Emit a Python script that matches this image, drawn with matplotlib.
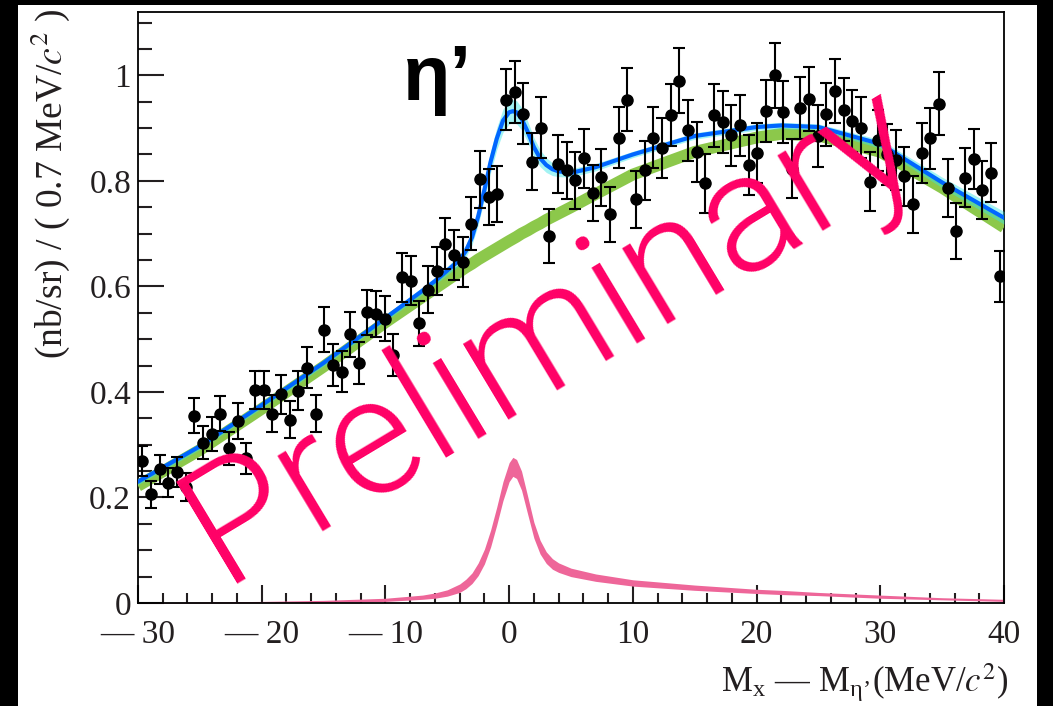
import numpy as np
import matplotlib
matplotlib.use("Agg")
import matplotlib.pyplot as plt
from matplotlib.patches import Rectangle
from matplotlib import font_manager

# ---- data ----
# 100 bins of 0.7 MeV between -30 and 40
bin_lo, bin_hi, nbins = -30.0, 40.0, 100
y_data = [0.269, 0.206, 0.253, 0.228, 0.248, 0.220, 0.355, 0.304, 0.321, 0.359,
          0.293, 0.345, 0.274, 0.403, 0.403, 0.359, 0.396, 0.347, 0.402, 0.446,
          0.359, 0.518, 0.451, 0.438, 0.509, 0.455, 0.551, 0.548, 0.539, 0.470,
          0.617, 0.611, 0.530, 0.594, 0.629, 0.681, 0.659, 0.646, 0.719, 0.803,
          0.770, 0.775, 0.954, 0.968, 0.927, 0.836, 0.901, 0.695, 0.832, 0.820,
          0.801, 0.843, 0.777, 0.807, 0.737, 0.882, 0.954, 0.765, 0.820, 0.882,
          0.863, 0.925, 0.990, 0.896, 0.855, 0.795, 0.924, 0.912, 0.886, 0.905,
          0.830, 0.852, 0.932, 1.000, 0.931, 0.823, 0.938, 0.955, 0.885, 0.926,
          0.970, 0.935, 0.914, 0.901, 0.798, 0.877, 0.850, 0.840, 0.809, 0.756,
          0.852, 0.881, 0.946, 0.787, 0.705, 0.806, 0.841, 0.782, 0.815, 0.619]
y_err = [0.028, 0.026, 0.028, 0.027, 0.028, 0.027, 0.033, 0.031, 0.032, 0.033,
         0.031, 0.034, 0.030, 0.036, 0.036, 0.035, 0.037, 0.035, 0.037, 0.039,
         0.035, 0.042, 0.039, 0.039, 0.042, 0.040, 0.043, 0.043, 0.043, 0.040,
         0.046, 0.046, 0.043, 0.045, 0.046, 0.048, 0.047, 0.047, 0.050, 0.054,
         0.053, 0.053, 0.058, 0.059, 0.058, 0.054, 0.057, 0.051, 0.055, 0.054,
         0.054, 0.056, 0.053, 0.054, 0.052, 0.058, 0.060, 0.054, 0.056, 0.058,
         0.057, 0.059, 0.061, 0.058, 0.057, 0.055, 0.059, 0.059, 0.058, 0.058,
         0.056, 0.057, 0.059, 0.062, 0.059, 0.056, 0.059, 0.060, 0.058, 0.059,
         0.060, 0.059, 0.059, 0.058, 0.056, 0.058, 0.057, 0.057, 0.056, 0.054,
         0.057, 0.058, 0.060, 0.055, 0.053, 0.056, 0.057, 0.055, 0.056, 0.049]

# fit curves, read at these x positions
x_curve = [-30, -25, -20, -15, -10, -7, -6, -5, -4, -3.5, -3, -2.5, -2, -1.5, -1, -0.5,
           0, 0.3, 0.6, 1, 1.5, 2, 2.5, 3, 3.5, 4, 5, 7, 10, 15, 20, 22, 25, 30, 35, 40]
bkg = [0.222, 0.290, 0.368, 0.448, 0.532, 0.580, 0.596, 0.612, 0.628, 0.636, 0.643,
       0.651, 0.658, 0.665, 0.672, 0.679, 0.686, 0.690, 0.694, 0.700, 0.706, 0.713,
       0.719, 0.726, 0.732, 0.738, 0.750, 0.775, 0.812, 0.855, 0.882, 0.889, 0.886,
       0.855, 0.787, 0.712]
total = [0.230, 0.297, 0.375, 0.455, 0.540, 0.592, 0.610, 0.630, 0.650, 0.667, 0.693,
         0.733, 0.783, 0.836, 0.880, 0.914, 0.930, 0.932, 0.930, 0.918, 0.893, 0.864,
         0.843, 0.830, 0.822, 0.818, 0.815, 0.826, 0.850, 0.885, 0.902, 0.905, 0.902,
         0.870, 0.797, 0.730]
total_err = [0.006, 0.006, 0.006, 0.006, 0.006, 0.007, 0.007, 0.008, 0.010, 0.012,
             0.014, 0.016, 0.018, 0.020, 0.021, 0.022, 0.022, 0.022, 0.022, 0.021,
             0.020, 0.018, 0.016, 0.014, 0.012, 0.010, 0.008, 0.007, 0.006, 0.006,
             0.006, 0.006, 0.006, 0.008, 0.010, 0.012]
sig = [0.000, 0.001, 0.002, 0.003, 0.006, 0.011, 0.014, 0.019, 0.028, 0.036, 0.047,
       0.064, 0.088, 0.122, 0.165, 0.212, 0.248, 0.258, 0.254, 0.232, 0.185, 0.138,
       0.106, 0.086, 0.074, 0.067, 0.058, 0.048, 0.038, 0.029, 0.022, 0.020, 0.017,
       0.012, 0.008, 0.005]
sig_err = [0.000, 0.001, 0.001, 0.002, 0.003, 0.004, 0.005, 0.006, 0.008, 0.009,
           0.010, 0.012, 0.014, 0.016, 0.017, 0.018, 0.018, 0.018, 0.018, 0.018,
           0.017, 0.015, 0.013, 0.011, 0.010, 0.009, 0.008, 0.007, 0.006, 0.005,
           0.004, 0.004, 0.003, 0.003, 0.002, 0.002]

plt.rcParams['font.family'] = ['Liberation Serif', 'DejaVu Serif']
plt.rcParams['mathtext.fontset'] = 'stix'

# thin geometric face for the watermark; fall back to plain Lato
prelim_file = None
for wanted in ['Roboto-Light.ttf', 'OpenSans-Light.ttf', 'Lato-Regular.ttf']:
    for f in font_manager.fontManager.ttflist:
        if f.fname.endswith(wanted):
            prelim_file = f.fname
            break
    if prelim_file:
        break
if prelim_file:
    prelim_font = font_manager.FontProperties(fname=prelim_file, size=120)
else:
    prelim_font = font_manager.FontProperties(family='DejaVu Sans', size=110)

fig = plt.figure(figsize=(10.53, 7.06), dpi=100, facecolor='black')
fig.patches.append(Rectangle((18 / 1053, 0), (1037 - 18) / 1053, 701 / 706,
                             transform=fig.transFigure, facecolor='white',
                             edgecolor='none', zorder=-5))
ax = fig.add_axes([138 / 1053, 1 - 603 / 706, (1004 - 138) / 1053, (603 - 12) / 706])
ax.set_zorder(1)

width = (bin_hi - bin_lo) / nbins
x_data = np.linspace(bin_lo + width / 2, bin_hi - width / 2, nbins)

xc = np.array(x_curve)
bk = np.array(bkg)
tt = np.array(total)
te = np.array(total_err)
sg = np.array(sig)
se = np.array(sig_err)

ax.fill_between(xc, sg - se, sg + se, color='#ee6699', lw=0, zorder=2)
ax.plot(xc, bk, color='#8cc84b', lw=8.5, solid_capstyle='butt', zorder=3)
ax.fill_between(xc, tt - te, tt + te, color='#33e6e6', alpha=0.45, lw=0, zorder=4)
ax.plot(xc, tt, color='#0066ff', lw=3, zorder=5)
ax.errorbar(x_data, y_data, yerr=y_err, fmt='o', color='black', ms=8, elinewidth=1.5,
            capsize=4.5, capthick=1.5, zorder=6)

ax.set_xlim(-30, 40)
ax.set_ylim(0, 1.12)
ax.set_xticks([-30, -20, -10, 0, 10, 20, 30, 40])
ax.set_xticklabels(['\u2014 30', '\u2014 20', '\u2014 10', '0', '10', '20', '30', '40'])
ax.set_xticks(np.arange(-30, 41, 2), minor=True)
ax.set_yticks([0, 0.2, 0.4, 0.6, 0.8, 1.0])
ax.set_yticklabels(['0', '0.2', '0.4', '0.6', '0.8', '1'])
ax.set_yticks(np.arange(0, 1.11, 0.05), minor=True)
ax.tick_params(which='both', direction='in', top=False, right=False, labelsize=24,
               width=1.5, colors='#231f20')
ax.tick_params(which='major', axis='y', length=19)
ax.tick_params(which='minor', axis='y', length=10)
ax.tick_params(which='major', axis='x', length=13, pad=12)
ax.tick_params(which='minor', axis='x', length=7)
ax.tick_params(axis='y', pad=5)
for s in ax.spines.values():
    s.set_linewidth(1.3)

fig.text(50 / 1053, 1 - 8 / 706, '(nb/sr) / ( 0.7 MeV/$c^2$ )', rotation=90,
         ha='center', va='top', fontsize=27, color='#231f20')
fig.text(1008 / 1053, 1 - 692 / 706,
         'M$_\\mathregular{x}$ \u2014 M$_{\\mathregular{\u03b7\u2019}}$(MeV/$c^2$)',
         ha='right', va='baseline', fontsize=25, color='#231f20')

fig.text(403 / 1053, 1 - 100 / 706, '\u03b7\u2019', fontsize=56, fontweight='bold',
         family=['Liberation Sans', 'DejaVu Sans'], ha='left', va='baseline', zorder=10)

fig.text(222 / 1053, 1 - 583 / 706, 'Preliminary', fontproperties=prelim_font,
         color='#ff0066', rotation=31, rotation_mode='anchor', ha='left',
         va='baseline', zorder=10)

fig.savefig('out.png', dpi=100, facecolor='black')
